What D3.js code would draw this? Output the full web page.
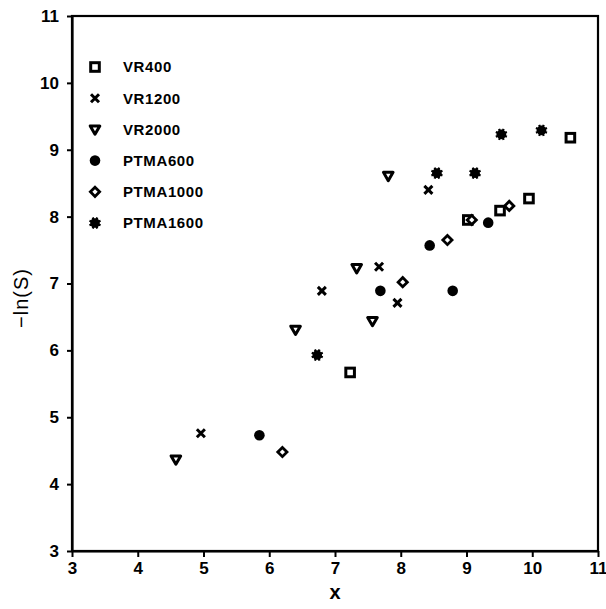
<!DOCTYPE html>
<html>
<head>
<meta charset="utf-8">
<script src="https://cdn.jsdelivr.net/npm/d3@7"></script>
<style>
  body { margin: 0; background: #fff; }
  svg { display: block; }
</style>
</head>
<body>
<svg id="chart"></svg>
<script>
// values, [x, -ln(S)]
const vr400 = [[7.23, 5.67], [9.02, 7.95], [9.51, 8.09], [9.95, 8.27], [10.58, 9.18]];
const vr1200 = [[4.96, 4.76], [6.80, 6.89], [7.67, 7.25], [7.95, 6.71], [8.42, 8.40]];
const vr2000 = [[4.58, 4.37], [6.40, 6.31], [7.33, 7.23], [7.57, 6.44], [7.81, 8.61]];
const ptma600 = [[5.85, 4.73], [7.69, 6.89], [8.44, 7.57], [8.79, 6.89], [9.33, 7.91]];
const ptma1000 = [[6.20, 4.48], [8.03, 7.02], [8.71, 7.65], [9.08, 7.95], [9.65, 8.16]];
const ptma1600 = [[6.73, 5.93], [8.55, 8.65], [9.13, 8.65], [9.53, 9.23], [10.14, 9.29]];

const seriesNames = ["VR400", "VR1200", "VR2000", "PTMA600", "PTMA1000", "PTMA1600"];
const seriesValues = [vr400, vr1200, vr2000, ptma600, ptma1000, ptma1600];
const xTicks = [3, 4, 5, 6, 7, 8, 9, 10, 11];
const yTicks = [3, 4, 5, 6, 7, 8, 9, 10, 11];

const width = 606, height = 609;
const margin = { top: 16, right: 8, bottom: 58, left: 72 };
const visWidth = width - margin.left - margin.right;
const visHeight = height - margin.top - margin.bottom;

const svg = d3.select("#chart").attr("width", width).attr("height", height);

const g = svg.append("g")
  .attr("transform", `translate(${margin.left}, ${margin.top})`);

const x = d3.scaleLinear().domain([3, 11]).range([0, visWidth]);
const y = d3.scaleLinear().domain([3, 11]).range([visHeight, 0]);

const tickFont = "bold 17px 'Liberation Sans', Arial, sans-serif";

// frame
g.append("rect")
  .attr("width", visWidth)
  .attr("height", visHeight)
  .attr("fill", "none")
  .attr("stroke", "#000")
  .attr("stroke-width", 2.2);

// axes
g.append("g")
  .attr("transform", `translate(0, ${visHeight})`)
  .call(d3.axisBottom(x).tickValues(xTicks).tickFormat(d3.format("d")).tickSizeInner(6).tickSizeOuter(0).tickPadding(5))
  .call(ax => ax.select(".domain").attr("stroke-width", 2.2))
  .call(ax => ax.selectAll(".tick line").attr("stroke-width", 2))
  .call(ax => ax.selectAll("text").style("font", tickFont).attr("fill", "#000"));

g.append("g")
  .call(d3.axisLeft(y).tickValues(yTicks).tickFormat(d3.format("d")).tickSizeInner(5).tickSizeOuter(0).tickPadding(8))
  .call(ax => ax.select(".domain").attr("stroke-width", 2.2))
  .call(ax => ax.selectAll(".tick line").attr("stroke-width", 2))
  .call(ax => ax.selectAll("text").style("font", tickFont).attr("fill", "#000"));

// axis titles
svg.append("text")
  .attr("x", 335)
  .attr("y", 599)
  .attr("text-anchor", "middle")
  .style("font", "bold 20px 'Liberation Sans', Arial, sans-serif")
  .text("x");

svg.append("text")
  .attr("transform", "translate(28, 298) rotate(-90)")
  .attr("text-anchor", "middle")
  .style("font", "20px 'Liberation Sans', Arial, sans-serif")
  .attr("letter-spacing", 1)
  .text("\u2212ln(S)");

// marker drawers
function drawMarker(sel, i) {
  sel.each(function () {
    const m = d3.select(this);
    if (i === 0) {
      m.append("rect").attr("x", -4.3).attr("y", -4.3).attr("width", 8.6).attr("height", 8.6)
        .attr("fill", "#fff").attr("stroke", "#000").attr("stroke-width", 3);
    } else if (i === 1) {
      m.append("path").attr("d", "M-4,-4L4,4M-4,4L4,-4")
        .attr("stroke", "#000").attr("stroke-width", 3);
    } else if (i === 2) {
      m.append("path").attr("d", "M-4.8,-3.5L4.8,-3.5L0,4.8Z")
        .attr("fill", "#fff").attr("stroke", "#000").attr("stroke-width", 3).attr("stroke-linejoin", "round");
    } else if (i === 3) {
      m.append("circle").attr("r", 5.3).attr("fill", "#000");
    } else if (i === 4) {
      m.append("path").attr("d", "M0,-4.6L4.6,0L0,4.6L-4.6,0Z")
        .attr("fill", "#fff").attr("stroke", "#000").attr("stroke-width", 2.8);
    } else {
      m.append("circle").attr("r", 4.8).attr("fill", "#000");
      m.append("path")
        .attr("d", d3.range(8).map(k => {
          const a = k * Math.PI / 4 + Math.PI / 8;
          return `M0,0L${(6 * Math.cos(a)).toFixed(2)},${(6 * Math.sin(a)).toFixed(2)}`;
        }).join(""))
        .attr("stroke", "#000").attr("stroke-width", 2.2);
    }
  });
}

// points
seriesValues.forEach((vals, i) => {
  g.append("g")
    .selectAll("g")
    .data(vals)
    .join("g")
    .attr("transform", d => `translate(${x(d[0])}, ${y(d[1])})`)
    .call(sel => drawMarker(sel, i));
});

// legend
const legend = svg.append("g");
const legendRow = d3.scaleLinear().domain([0, 5]).range([67, 223]);

seriesNames.forEach((name, i) => {
  const row = legend.append("g").attr("transform", `translate(95, ${legendRow(i)})`);
  row.append("g").call(sel => drawMarker(sel, i));
  row.append("text")
    .attr("x", 28)
    .attr("dy", "0.36em")
    .style("font", "bold 15px 'Liberation Sans', Arial, sans-serif")
    .attr("letter-spacing", 0.6)
    .text(name);
});
</script>
</body>
</html>
